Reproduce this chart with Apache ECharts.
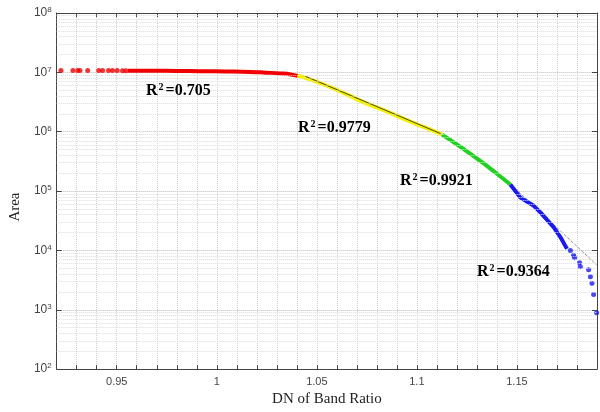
<!DOCTYPE html>
<html>
<head>
<meta charset="utf-8">
<script src="https://cdn.jsdelivr.net/npm/echarts@6/dist/echarts.min.js"></script>
<style>
  html, body { margin: 0; padding: 0; background: #fff; }
  #main { width: 600px; height: 412px; }
</style>
</head>
<body>
<div id="main"></div>
<script>
// sparse red points on the left
const redDotX = [0.9221, 0.9281, 0.9305, 0.9316, 0.9355, 0.941, 0.9429, 0.9459, 0.9479, 0.9502, 0.9529, 0.9546];
const redDotArea = [1.07e7, 1.07e7, 1.07e7, 1.07e7, 1.07e7, 1.07e7, 1.07e7, 1.07e7, 1.07e7, 1.07e7, 1.065e7, 1.065e7];
// dense segments
const redX = [0.9556, 0.9671, 0.9795, 0.992, 1.0045, 1.017, 1.0245, 1.0319, 1.0369, 1.0404];
const redArea = [1.063e7, 1.063e7, 1.055e7, 1.047e7, 1.035e7, 1.015e7, 9.89e6, 9.59e6, 9.23e6, 8.71e6];
const yellowX = [1.0404, 1.0428, 1.0569, 1.0735, 1.0843, 1.0952, 1.1043, 1.1126];
const yellowArea = [8.71e6, 8.39e6, 5.61e6, 3.13e6, 2.24e6, 1.547e6, 1.17e6, 8.95e5];
const greenX = [1.1126, 1.1218, 1.1318, 1.1392, 1.1467];
const greenArea = [8.95e5, 5.55e5, 3.19e5, 2.05e5, 1.287e5];
const blueX = [1.1467, 1.1517, 1.1584, 1.1617, 1.1683, 1.1717, 1.175];
const blueArea = [1.287e5, 7.74e4, 5.64e4, 4.36e4, 2.46e4, 1.68e4, 1.06e4];
// sparse blue points on the right
const blueDotX = [1.1767, 1.1783, 1.1788, 1.1813, 1.1817, 1.1858, 1.1867, 1.1875, 1.1883, 1.1898];
const blueDotArea = [1.0e4, 8.3e3, 7.5e3, 6.2e3, 5.3e3, 4.7e3, 3.6e3, 2.8e3, 1.8e3, 890];
// fitted lines
const yellowFitX = [1.0444, 1.1118];
const yellowFitArea = [8.55e6, 9.3e5];
const blueFitX = [1.1472, 1.1898];
const blueFitArea = [1.27e5, 5.7e3];
// R2 labels
const r2Labels = ['0.705', '0.9779', '0.9921', '0.9364'];
// log grid
const decades = [100, 1000, 10000, 100000, 1000000, 10000000];
const mantissas = [2, 3, 4, 5, 6, 7, 8, 9];

const pairs = (xs, ys) => xs.map((x, i) => [x, ys[i]]);
const minorLines = [];
decades.forEach(d => mantissas.forEach(m => minorLines.push({ yAxis: d * m })));

const chart = echarts.init(document.getElementById('main'));

const supRich = {
  b: { fontFamily: 'Liberation Serif', fontWeight: 'bold', fontSize: 16, color: '#111', lineHeight: 24 },
  s: { fontFamily: 'Liberation Serif', fontWeight: 'bold', fontSize: 10, color: '#111', lineHeight: 10, verticalAlign: 'top', padding: [3, 2, 0, 1] }
};
const r2Pos = [[146, 91], [298, 128], [400, 181], [477, 272]];

const option = {
  backgroundColor: '#fff',
  animation: false,
  grid: { left: 56, right: 3, top: 13, bottom: 38, containLabel: false },
  xAxis: [{
    type: 'value', min: 0.92, max: 1.19, interval: 0.01,
    name: 'DN of Band Ratio', nameLocation: 'middle', nameGap: 21,
    nameTextStyle: { fontFamily: 'Liberation Serif', fontSize: 15, color: '#222' },
    axisLine: { show: true, onZero: false, lineStyle: { color: '#444', width: 1 } },
    axisTick: { show: true, inside: true, length: 4, lineStyle: { color: '#444' } },
    axisLabel: {
      margin: 7, fontFamily: 'Liberation Sans', fontSize: 11, color: '#444',
      showMinLabel: false, showMaxLabel: false,
      formatter: v => Math.abs(v * 20 - Math.round(v * 20)) < 1e-6 ? String(+v.toFixed(2)) : ''
    },
    splitLine: { show: true, lineStyle: { type: 'dotted', color: '#cfcfcf' } }
  }, {
    type: 'value', position: 'top', min: 0.92, max: 1.19, interval: 0.01,
    axisLine: { show: true, lineStyle: { color: '#444', width: 1 } },
    axisTick: { show: true, inside: true, length: 4, lineStyle: { color: '#444' } },
    axisLabel: { show: false }, splitLine: { show: false }
  }],
  yAxis: [{
    type: 'log', logBase: 10, min: 100, max: 1e8, interval: 1,
    name: 'Area', nameLocation: 'middle', nameGap: 22,
    nameTextStyle: { fontFamily: 'Liberation Serif', fontSize: 15, color: '#222', padding: [0, 0, 0, -32] },
    axisLine: { show: true, lineStyle: { color: '#444', width: 1 } },
    axisTick: { show: true, inside: true, length: 5, lineStyle: { color: '#444' } },
    axisLabel: {
      margin: 5, color: '#444',
      formatter: v => '{b|10}{s|' + Math.round(Math.log10(v)) + '}',
      rich: {
        b: { fontFamily: 'Liberation Sans', fontSize: 12, color: '#444', lineHeight: 14 },
        s: { fontFamily: 'Liberation Sans', fontSize: 8, color: '#444', lineHeight: 8, verticalAlign: 'top' }
      }
    },
    splitLine: { show: true, lineStyle: { type: 'dotted', color: '#bdbdbd' } }
  }, {
    type: 'log', logBase: 10, min: 100, max: 1e8, interval: 1, position: 'right',
    axisLine: { show: true, lineStyle: { color: '#444', width: 1 } },
    axisTick: { show: true, inside: true, length: 5, lineStyle: { color: '#444' } },
    axisLabel: { show: false }, splitLine: { show: false }
  }],
  graphic: r2Labels.map((t, i) => ({
    type: 'text', x: r2Pos[i][0], y: r2Pos[i][1], z: 100,
    style: {
      text: '{b|R}{s|2}{b|=' + t + '}', rich: supRich, verticalAlign: 'middle'
    }
  })),
  series: [
    {
      name: 'grid', type: 'line', data: [], z: 1, silent: true,
      markLine: {
        silent: true, symbol: 'none', animation: false,
        label: { show: false },
        lineStyle: { type: 'dotted', color: '#dcdcdc', width: 1 },
        data: minorLines
      }
    },
    {
      name: 'red dots', type: 'scatter', data: pairs(redDotX, redDotArea), z: 3,
      symbolSize: 5, itemStyle: { color: '#f00000' }
    },
    {
      name: 'red', type: 'line', data: pairs(redX, redArea), z: 3, smooth: true,
      showSymbol: false, lineStyle: { color: '#f00000', width: 4 }
    },
    {
      name: 'yellow', type: 'line', data: pairs(yellowX, yellowArea), z: 3, smooth: true,
      showSymbol: false, lineStyle: { color: '#f4f000', width: 4 }
    },
    {
      name: 'green', type: 'line', data: pairs(greenX, greenArea), z: 3, smooth: true,
      showSymbol: false, lineStyle: { color: '#22d022', width: 4 }
    },
    {
      name: 'blue', type: 'line', data: pairs(blueX, blueArea), z: 3,
      showSymbol: false, lineStyle: { color: '#1a1aee', width: 4 }
    },
    {
      name: 'blue dots', type: 'scatter', data: pairs(blueDotX, blueDotArea), z: 3,
      symbolSize: 5, itemStyle: { color: '#1a1aee' }
    },
    {
      name: 'yellow fit', type: 'line', data: pairs(yellowFitX, yellowFitArea), z: 4,
      showSymbol: false, lineStyle: { color: '#222', width: 0.8 }
    },
    {
      name: 'blue fit', type: 'line', data: pairs(blueFitX, blueFitArea), z: 2,
      showSymbol: false, lineStyle: { color: '#777', width: 0.8, type: 'dashed' }
    }
  ]
};
chart.setOption(option);
</script>
</body>
</html>
